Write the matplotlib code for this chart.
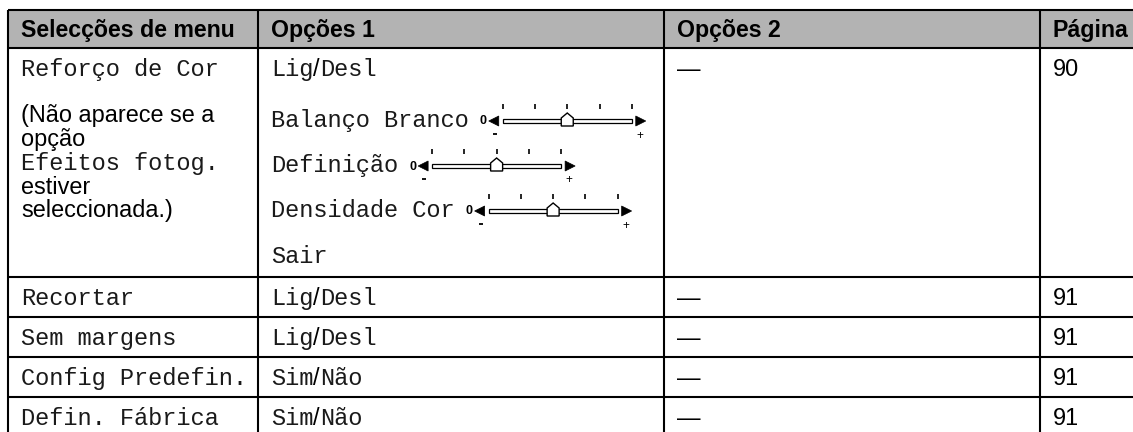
import matplotlib
matplotlib.use("Agg")
import matplotlib.pyplot as plt
from matplotlib.patches import Rectangle, Polygon

# ---------------- data ----------------
headers = ["Selecções de menu", "Opções 1", "Opções 2", "Página"]
menu_items = ["Reforço de Cor", "Recortar", "Sem margens", "Config Predefin.", "Defin. Fábrica"]
note_lines = ["(Não aparece se a", "opção", "Efeitos fotog.", "estiver", "seleccionada.)"]
note_is_mono = [False, False, True, False, False]
options1_main = [("Lig", "Desl"), ("Lig", "Desl"), ("Lig", "Desl"), ("Sim", "Não"), ("Sim", "Não")]
slider_labels = ["Balanço Branco", "Definição", "Densidade Cor"]
slider_levels = [5, 5, 5]
slider_values = [3, 3, 3]
exit_label = "Sair"
options2 = ["—", "—", "—", "—", "—"]
pages = ["90", "91", "91", "91", "91"]

# ---------------- layout ----------------
W, H = 1133, 432
col_edges = [8, 258, 664, 1040, W]
row_edges = [10, 48, 277, 317, 357, 397]
pad_x = 13
SANS = "Liberation Sans"
MONO = "Liberation Mono"
FS_HEAD = 16.7
FS_SANS = 16.9
FS_MONO = 17.0
LW = 1.5
HEADER_GRAY = "#b3b3b3"
MONO_COLOR = "#1a1a1a"

fig = plt.figure(figsize=(W / 100, H / 100), dpi=100)
ax = fig.add_axes([0, 0, 1, 1])
ax.set_xlim(0, W)
ax.set_ylim(H, 0)
ax.axis("off")
renderer = fig.canvas.get_renderer()


def put(x, y, s, family, size, weight="normal", color="black"):
    t = ax.text(x, y, s, fontfamily=family, fontsize=size, fontweight=weight,
                ha="left", va="baseline", color=color)
    bb = t.get_window_extent(renderer)
    return ax.transData.inverted().transform((bb.x1, bb.y0))[0]


def put_pair(x, y, a, b):
    x = put(x, y, a, MONO, FS_MONO, color=MONO_COLOR)
    x = put(x, y, "/", SANS, FS_SANS)
    return put(x, y, b, MONO, FS_MONO, color=MONO_COLOR)


def slider(x0, ybar, levels, value):
    ax.text(x0, ybar + 0.5, "0", fontfamily=SANS, fontsize=9, fontweight="bold",
            ha="left", va="center")
    xl = x0 + 9
    ax.add_patch(Polygon([[xl, ybar], [xl + 10, ybar - 5], [xl + 10, ybar + 5]],
                         closed=True, fc="black", ec="black", lw=0.5))
    bx0 = xl + 14
    blen = 129
    ax.add_patch(Rectangle((bx0, ybar - 2), blen, 4, fc="white", ec="black", lw=0.9))
    xr = bx0 + blen + 4
    ax.add_patch(Polygon([[xr, ybar - 5], [xr, ybar + 5], [xr + 10, ybar]],
                         closed=True, fc="black", ec="black", lw=0.5))
    step = blen / (levels - 1)
    for i in range(levels):
        tx = bx0 + i * step
        ax.plot([tx, tx], [ybar - 17, ybar - 12], color="black", lw=1.2,
                solid_capstyle="butt")
    kx = bx0 + (value - 1) * step
    ax.add_patch(Polygon([[kx - 6, ybar + 5], [kx + 6, ybar + 5], [kx + 6, ybar - 3],
                          [kx, ybar - 8], [kx - 6, ybar - 3]],
                         closed=True, fc="white", ec="black", lw=1.0, zorder=3))
    ax.plot([xl + 4, xl + 8], [ybar + 13, ybar + 13], color="black", lw=1.3,
            solid_capstyle="butt")
    ax.text(xr + 4, ybar + 14.5, "+", fontfamily=SANS, fontsize=8.5,
            ha="center", va="center")


# header background
ax.add_patch(Rectangle((col_edges[0], row_edges[0]), W - col_edges[0],
                       row_edges[1] - row_edges[0], fc=HEADER_GRAY, ec="none"))

# grid lines
for y in row_edges:
    ax.plot([col_edges[0], W], [y, y], color="black", lw=LW, solid_capstyle="butt")
for x in col_edges[:-1]:
    ax.plot([x, x], [row_edges[0], H], color="black", lw=LW, solid_capstyle="butt")

# header text
for c, h in enumerate(headers):
    put(col_edges[c] + pad_x, 36.5, h, SANS, FS_HEAD, weight="bold")

# row baselines
row_base = [76, 305, 345, 385, 425]

for r, item in enumerate(menu_items):
    yb = row_base[r]
    put(col_edges[0] + pad_x, yb, item, MONO, FS_MONO, color=MONO_COLOR)
    put_pair(col_edges[1] + pad_x, yb, *options1_main[r])
    put(col_edges[2] + pad_x, yb, options2[r], SANS, FS_SANS)
    put(col_edges[3] + pad_x, yb, pages[r], SANS, FS_SANS)

# note in first row
note_base = [122, 146, 170, 194, 217]
for s, mono, yb in zip(note_lines, note_is_mono, note_base):
    if mono:
        put(col_edges[0] + pad_x, yb, s, MONO, FS_MONO, color=MONO_COLOR)
    else:
        put(col_edges[0] + pad_x, yb, s, SANS, FS_SANS)

# sliders
slider_base = [127, 172, 217]
for lab, lv, val, yb in zip(slider_labels, slider_levels, slider_values, slider_base):
    xe = put(col_edges[1] + pad_x, yb, lab, MONO, FS_MONO, color=MONO_COLOR)
    slider(xe + 11, yb - 6, lv, val)

put(col_edges[1] + pad_x, 263, exit_label, MONO, FS_MONO, color=MONO_COLOR)

fig.savefig("out.png", dpi=100, facecolor="white")
